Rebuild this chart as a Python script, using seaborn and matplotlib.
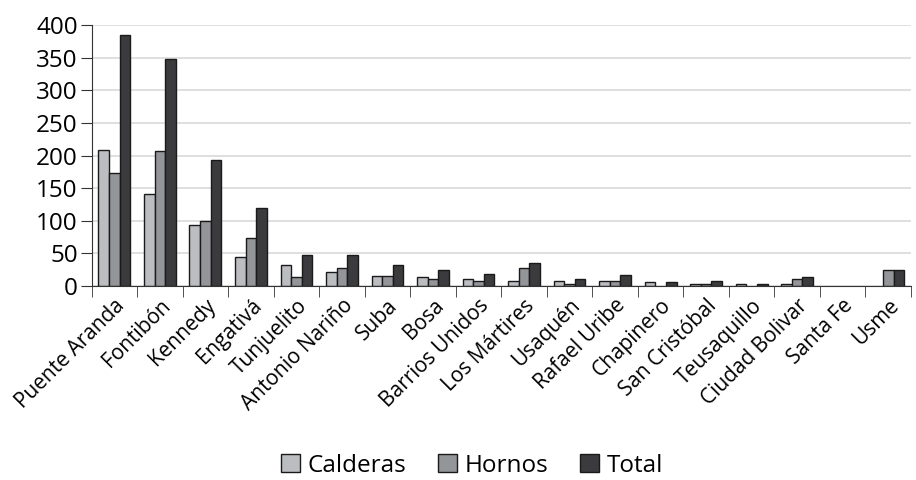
import pandas as pd
import matplotlib.pyplot as plt
import seaborn as sns
from matplotlib.patches import Patch

localidades = ['Puente Aranda', 'Fontibón', 'Kennedy', 'Engativá', 'Tunjuelito',
               'Antonio Nariño', 'Suba', 'Bosa', 'Barrios Unidos', 'Los Mártires',
               'Usaquén', 'Rafael Uribe', 'Chapinero', 'San Cristóbal', 'Teusaquillo',
               'Ciudad Bolivar', 'Santa Fe', 'Usme']
calderas = [209, 141, 94, 44, 33, 22, 16, 14, 11, 8, 8, 8, 6, 3, 3, 3, 0, 0]
hornos = [173, 207, 100, 74, 14, 28, 16, 11, 8, 28, 3, 8, 0, 3, 0, 11, 0, 25]
total = [384, 348, 193, 119, 47, 47, 33, 25, 19, 36, 11, 17, 6, 8, 3, 14, 0, 25]

series = ['Calderas', 'Hornos', 'Total']
colores = ['#bcbdc1', '#939598', '#3b3b3d']

df = pd.DataFrame({'localidad': localidades, 'Calderas': calderas,
                   'Hornos': hornos, 'Total': total})
long_df = df.melt(id_vars='localidad', var_name='serie', value_name='valor')

sns.set_style('white')
plt.rcParams['font.family'] = ['Open Sans', 'DejaVu Sans']
plt.rcParams['text.color'] = 'black'

fig = plt.figure(figsize=(9.16, 4.8), dpi=100)
ax = fig.add_axes([0.1, 0.404, 0.8945, 0.544])

sns.barplot(data=long_df, x='localidad', y='valor', hue='serie', order=localidades,
            hue_order=series, palette=colores, width=0.7, edgecolor='#1a1a1a',
            linewidth=1.0, saturation=1, ax=ax, legend=False)

# no outline for empty bars
for p in ax.patches:
    if p.get_height() == 0:
        p.set_visible(False)

ax.set_ylim(0, 400)
ax.set_xlim(-0.5, len(localidades) - 0.5)
ax.set_yticks(range(0, 401, 50))
ax.yaxis.grid(True, color='#d9d9d9', linewidth=1.2)
ax.set_axisbelow(True)
for s in ['top', 'right']:
    ax.spines[s].set_visible(False)
ax.spines['left'].set_color('#333333')
ax.spines['bottom'].set_color('#333333')
ax.tick_params(axis='y', left=True, length=8, color='#333333', labelsize=17.5,
               pad=2, labelcolor='black')
ax.tick_params(axis='x', which='major', bottom=False, labelsize=15, pad=3,
               labelcolor='black')
ax.set_xticks([i - 0.5 for i in range(len(localidades) + 1)], minor=True)
ax.tick_params(axis='x', which='minor', bottom=True, length=8, color='#333333')
ax.set_xticklabels(localidades, rotation=45, ha='right', rotation_mode='anchor')
ax.set_xlabel('')
ax.set_ylabel('')

handles = [Patch(facecolor=c, edgecolor='#1a1a1a', label=s) for s, c in zip(series, colores)]
fig.legend(handles=handles, loc='center', bbox_to_anchor=(0.515, 0.03), ncol=3,
           frameon=False, fontsize=17.5, handlelength=0.8, handleheight=0.8,
           handletextpad=0.3, columnspacing=1.3)

fig.savefig('out.png', dpi=100)
